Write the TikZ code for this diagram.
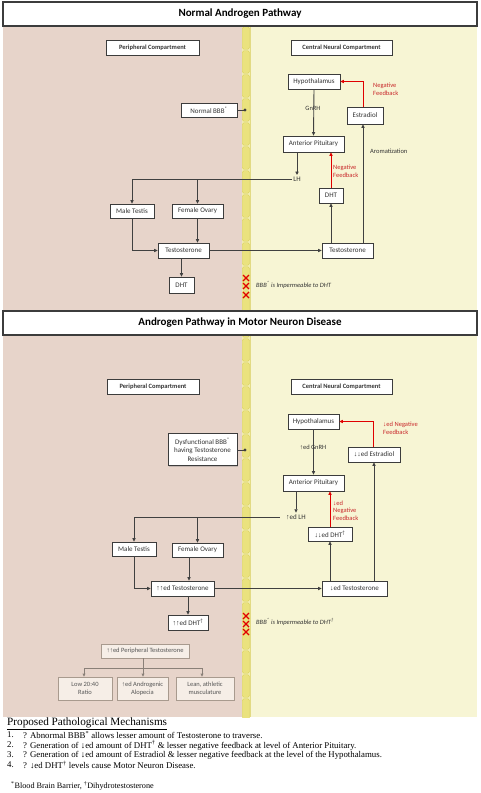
\documentclass[tikz,border=0pt]{standalone}
\usepackage{fontspec}
\setmainfont{Carlito}
\newfontfamily\serifF{Liberation Serif}
\newfontfamily\arrf{Liberation Sans}
\usetikzlibrary{arrows.meta,shadows}
\definecolor{pinkbg}{HTML}{E7D4CA}
\definecolor{ylbg}{HTML}{F7F5D4}
\definecolor{barA}{HTML}{EAE27E}
\definecolor{barB}{HTML}{F2EDAE}
\definecolor{barC}{HTML}{D8CD58}
\definecolor{linegray}{HTML}{404040}
\definecolor{boxborder}{HTML}{3C3C3C}
\definecolor{txtgray}{HTML}{333333}
\definecolor{redA}{HTML}{E00000}
\definecolor{redT}{HTML}{C8282A}
\definecolor{lfill}{HTML}{F6EEE7}
\definecolor{lborder}{HTML}{A89A8E}
\definecolor{ltext}{HTML}{555555}
\definecolor{lline}{HTML}{8A8078}
\newcommand\uA{{\arrf\char"2191}}
\newcommand\dA{{\arrf\char"2193}}
\begin{document}
\begin{tikzpicture}[x=1pt,y=-1pt,
 box/.style={draw=boxborder,line width=0.8pt,fill=white,text=txtgray,font=\fontsize{7}{8.5}\selectfont,inner sep=0pt,align=center,drop shadow={shadow xshift=1.3pt,shadow yshift=-1.3pt,opacity=0.35}},
 hbox/.style={box,font=\bfseries\fontsize{6.5}{8}\selectfont},
 titlebox/.style={draw=boxborder,line width=1.2pt,fill=white,font=\bfseries\fontsize{11}{12}\selectfont,text=black,inner sep=0pt,minimum width=474pt,minimum height=24pt,drop shadow={shadow xshift=1pt,shadow yshift=-1pt,opacity=0.3}},
 lab/.style={font=\fontsize{6.5}{8}\selectfont,text=txtgray,inner sep=0pt},
 rlab/.style={lab,text=redT,align=left,anchor=west},
 arr/.style={draw=linegray,line width=0.9pt,-{Triangle[length=3.5pt,width=3.2pt]}},
 ln/.style={draw=linegray,line width=0.9pt},
 rarr/.style={draw=redA,line width=0.9pt,-{Triangle[length=3.5pt,width=3.2pt]}},
 lbox/.style={draw=lborder,line width=0.6pt,fill=lfill,text=ltext,font=\fontsize{6.5}{8}\selectfont,inner sep=0pt,align=center},
 larr/.style={draw=lline,line width=0.7pt,-{Triangle[length=3pt,width=2.8pt]}},
 lln/.style={draw=lline,line width=0.7pt},
 xm/.style={draw=redA,line width=1.1pt},
 item/.style={anchor=west,inner sep=0pt,font=\serifF\fontsize{8.8}{10}\selectfont,text=black}]
\useasboundingbox (0,0) rectangle (480,793);
% backgrounds
\fill[pinkbg] (3,26) rectangle (242,717);
\fill[ylbg] (250,26) rectangle (477,717);
\fill[barB] (242,26) rectangle (250,717);
\begin{scope}
\clip (242,26) rectangle (250.5,717);
\foreach \i in {0,...,28} {
  \filldraw[fill=barA,draw=barC,line width=0.3pt,rounded corners=1.5pt] (242.3,26+24*\i+0.8) rectangle (249.5,26+24*\i+23.2);
}
\draw[barC,line width=0.8pt] (250,26) -- (250,717);
\end{scope}

% ================= TOP PANEL =================
\node[titlebox] (t1title) at (240,14) {Normal Androgen Pathway};
\node[hbox,minimum width=93pt,minimum height=15pt] (t1per) at (152.5,47.5) {Peripheral Compartment};
\node[hbox,minimum width=101pt,minimum height=15pt] (t1cen) at (341.5,47.5) {Central Neural Compartment};
\node[box,minimum width=52pt,minimum height=15pt] (t1hyp) at (314,81.5) {Hypothalamus};
\node[box,minimum width=56pt,minimum height=14pt] (t1bbb) at (209,110) {Normal BBB\textsuperscript{*}};
\node[box,minimum width=36pt,minimum height=17pt] (t1est) at (365,115.5) {Estradiol};
\node[box,minimum width=61pt,minimum height=16pt] (t1ap) at (313.5,144) {Anterior Pituitary};
\node[lab,font=\fontsize{7}{8}\selectfont,inner sep=1.5pt] (t1lh) at (297,179) {LH};
\node[box,minimum width=44pt,minimum height=14pt] (t1mt) at (132,211) {Male Testis};
\node[box,minimum width=51pt,minimum height=14pt] (t1fo) at (197.5,211) {Female Ovary};
\node[box,minimum width=24pt,minimum height=15pt] (t1dhtr) at (331,195.5) {DHT};
\node[box,minimum width=51pt,minimum height=15pt] (t1tl) at (183.5,250.5) {Testosterone};
\node[box,minimum width=51pt,minimum height=15pt] (t1tr) at (347.5,250.5) {Testosterone};
\node[box,minimum width=25pt,minimum height=16pt] (t1dhtl) at (181.5,285) {DHT};
\node[lab] (t1gnrh) at (313,108) {GnRH};
\node[rlab] (t1nf1) at (373,89) {Negative\\Feedback};
\node[lab,anchor=west] (t1aro) at (370,151) {Aromatization};
\node[rlab] (t1nf2) at (333,171) {Negative\\Feedback};
\node[lab,anchor=west,font=\itshape\fontsize{6.5}{8}\selectfont] (t1imp) at (256,285) {BBB\textsuperscript{*} is Impermeable to DHT};
\coordinate (t1dot) at (245,110);
\foreach \yy in {278,286,295} {\draw[xm] (246-3,\yy-3) -- (246+3,\yy+3) (246-3,\yy+3) -- (246+3,\yy-3);}

\draw[arr] (t1hyp.south) -- (t1ap.north);
\draw[rarr] ([xshift=-2pt]t1est.north) |- (t1hyp.east);
\draw[arr] (t1ap.south -| t1lh) -- (t1lh.north);
\draw[arr] (t1lh.west) -| (t1mt.north);
\draw[arr] (t1fo.north |- t1lh.west) -- (t1fo.north);
\draw[rarr] (t1dhtr.north) -- (t1dhtr.north |- t1ap.south);
\draw[arr] (t1mt.south) |- (t1tl.west);
\draw[arr] (t1fo.south) -- (t1fo.south |- t1tl.north);
\draw[arr] (t1tl.east) -- (t1tr.west);
\draw[arr] (t1tr.north -| t1dhtr) -- (t1dhtr.south);
\draw[arr] ([xshift=-2pt]t1est.south |- t1tr.north) -- ([xshift=-2pt]t1est.south);
\draw[arr] (t1tl.south -| t1dhtl) -- (t1dhtl.north);
\draw[ln] (t1bbb.east) -- (t1dot);
\fill[linegray] (t1dot) circle (1.6pt);

% ================= BOTTOM PANEL =================
\node[titlebox] (b1title) at (240,323) {Androgen Pathway in Motor Neuron Disease};
\node[hbox,minimum width=92pt,minimum height=15pt] (bper) at (153,386.5) {Peripheral Compartment};
\node[hbox,minimum width=101pt,minimum height=15pt] (bcen) at (341.5,386.5) {Central Neural Compartment};
\node[box,minimum width=51pt,minimum height=15pt] (bhyp) at (313.5,421.5) {Hypothalamus};
\node[box,minimum width=69pt,minimum height=32pt] (bbbb) at (202.5,449.5) {Dysfunctional BBB\textsuperscript{*}\\having Testosterone\\Resistance};
\node[box,minimum width=52pt,minimum height=15pt] (best) at (374,454.5) {\dA\dA ed Estradiol};
\node[box,minimum width=61pt,minimum height=16pt] (bap) at (313.5,483) {Anterior Pituitary};
\node[lab,font=\fontsize{7}{8}\selectfont,inner sep=1.5pt] (blh) at (296,517) {\uA ed LH};
\node[box,minimum width=44pt,minimum height=14pt] (bmt) at (134,549) {Male Testis};
\node[box,minimum width=51pt,minimum height=14pt] (bfo) at (197.5,550) {Female Ovary};
\node[box,minimum width=44pt,minimum height=14pt] (bdhtr) at (330,534) {\dA\dA ed DHT\textsuperscript{\dag}};
\node[box,minimum width=63pt,minimum height=15pt] (btl) at (182.5,588.5) {\uA\uA ed Testosterone};
\node[box,minimum width=65pt,minimum height=15pt] (btr) at (354.5,588.5) {\dA ed Testosterone};
\node[box,minimum width=40pt,minimum height=15pt] (bdhtl) at (188,622.5) {\uA\uA ed DHT\textsuperscript{\dag}};
\node[lab] (bgnrh) at (313,447) {\uA ed GnRH};
\node[rlab] (bnf1) at (383,428) {\dA ed Negative\\Feedback};
\node[rlab,font=\fontsize{6.5}{7.5}\selectfont] (bnf2) at (333,510.5) {\dA ed\\Negative\\Feedback};
\node[lab,anchor=west,font=\itshape\fontsize{6.5}{8}\selectfont] (bimp) at (256,622) {BBB\textsuperscript{*} is Impermeable to DHT\textsuperscript{\dag}};
\coordinate (bdot) at (245,450);
\foreach \yy in {616,624,632} {\draw[xm] (246-3,\yy-3) -- (246+3,\yy+3) (246-3,\yy+3) -- (246+3,\yy-3);}

\draw[arr] (bhyp.south) -- (bap.north);
\draw[rarr] ([xshift=-1pt]best.north) |- (bhyp.east);
\draw[arr] (bap.south -| blh) -- (blh.north);
\draw[arr] ([xshift=-5pt]blh.west) -| (bmt.north);
\draw[arr] (bfo.north |- blh.west) -- (bfo.north);
\draw[rarr] (bdhtr.north) -- (bdhtr.north |- bap.south);
\draw[arr] (bmt.south) |- (btl.west);
\draw[arr] ([xshift=-8.5pt]bfo.south) -- ([xshift=-8.5pt]bfo.south |- btl.north);
\draw[arr] (btl.east) -- (btr.west);
\draw[arr] (btr.north -| bdhtr) -- (bdhtr.south);
\draw[arr] (btr.north -| best) -- (best.south);
\draw[arr] (btl.south -| bdhtl) -- (bdhtl.north);
\draw[ln] (bbbb.east |- bdot) -- (bdot);
\fill[linegray] (bdot) circle (1.6pt);

% peripheral effects
\node[lbox,minimum width=88pt,minimum height=14pt] (bpt) at (145,651) {\uA\uA ed Peripheral Testosterone};
\node[lbox,minimum width=54pt,minimum height=23pt] (b3a) at (85,688.5) {Low 20:40\\Ratio};
\node[lbox,minimum width=51pt,minimum height=23pt] (b3b) at (142.5,688.5) {\uA ed Androgenic\\Alopecia};
\node[lbox,minimum width=58pt,minimum height=23pt] (b3c) at (205,688.5) {Lean, athletic\\musculature};
\coordinate (bjoin) at (143,668);
\draw[lln] (bpt.south -| bjoin) -- (bjoin);
\draw[larr] (bjoin) -| ([xshift=-1pt]b3a.north);
\draw[larr] (bjoin) -| ([xshift=-3pt]b3c.north);
\draw[larr] (bjoin) -- (bjoin |- b3b.north);

% ================= TEXT BELOW =================
\node[anchor=west,inner sep=0pt,font=\serifF\fontsize{11.2}{12}\selectfont] (ptitle) at (7,724) {\underline{Proposed Pathological Mechanisms}};
\node[item] (n1) at (7,735) {1.};
\node[item] (i1) at (23,735) {? Abnormal BBB\textsuperscript{*} allows lesser amount of Testosterone to traverse.};
\node[item] (n2) at (7,745) {2.};
\node[item] (i2) at (23,745) {? Generation of ↓ed amount of DHT\textsuperscript{\dag} \& lesser negative feedback at level of Anterior Pituitary.};
\node[item] (n3) at (7,755) {3.};
\node[item] (i3) at (23,755) {? Generation of ↓ed amount of Estradiol \& lesser negative feedback at the level of the Hypothalamus.};
\node[item] (n4) at (7,765) {4.};
\node[item] (i4) at (23,765) {? ↓ed DHT\textsuperscript{\dag} levels cause Motor Neuron Disease.};
\node[item,font=\serifF\fontsize{8.2}{10}\selectfont] (fn) at (11,786) {\textsuperscript{*}Blood Brain Barrier, \textsuperscript{\dag}Dihydrotestosterone};
\end{tikzpicture}
\end{document}
